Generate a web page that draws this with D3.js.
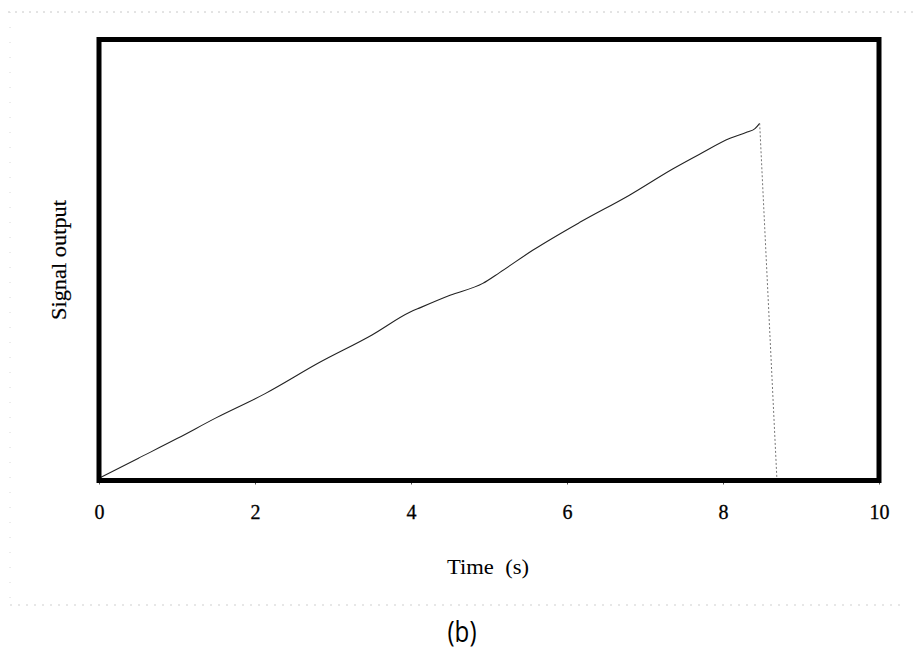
<!DOCTYPE html>
<html>
<head>
<meta charset="utf-8">
<script src="https://cdn.jsdelivr.net/npm/d3@7"></script>
<style>
  html, body { margin: 0; padding: 0; background: #fff; }
  svg { display: block; }
</style>
</head>
<body>
<svg id="chart" width="915" height="653"></svg>
<script>
// ---- data ----
const riseTime   = [0, 0.5, 1.0, 1.5, 2.13, 2.83, 3.5, 3.99, 4.12, 4.5, 4.92, 5.14, 5.56, 6.17, 6.8, 7.36, 7.7, 8.09, 8.31, 8.41, 8.47];
const riseSignal = [0.005, 0.05, 0.095, 0.142, 0.197, 0.268, 0.33, 0.382, 0.392, 0.42, 0.447, 0.472, 0.522, 0.586, 0.647, 0.707, 0.74, 0.776, 0.790, 0.798, 0.810];
const fallTime   = [8.47, 8.69];
const fallSignal = [0.810, 0.007];
const xTicks     = [0, 2, 4, 6, 8, 10];
const xLabel     = "Time  (s)";
const yLabel     = "Signal output";
const caption    = "(b)";

// ---- layout ----
const svg = d3.select("#chart");
const mLeft = 99, mRight = 879, mTop = 39.5, mBottom = 480.5;
const serif = "'Liberation Serif', 'Times New Roman', serif";

const x = d3.scaleLinear().domain([0, 10]).range([mLeft, mRight]);
const y = d3.scaleLinear().domain([0, 1]).range([mBottom, mTop]);

// faint scan artefacts (dotted guide lines of the scanned page)
svg.append("line").attr("x1", 8).attr("x2", 913).attr("y1", 12).attr("y2", 12)
  .attr("stroke", "#c8c8c8").attr("stroke-width", 1).attr("stroke-dasharray", "2,5");
svg.append("line").attr("x1", 10).attr("x2", 905).attr("y1", 605).attr("y2", 605)
  .attr("stroke", "#cfcfcf").attr("stroke-width", 1).attr("stroke-dasharray", "2,6");
svg.append("line").attr("x1", 10).attr("x2", 10).attr("y1", 12).attr("y2", 600)
  .attr("stroke", "#d8d8d8").attr("stroke-width", 1).attr("stroke-dasharray", "1,14");

// x axis ticks + labels
const xAxis = d3.axisBottom(x).tickValues(xTicks).tickSize(4).tickPadding(20)
  .tickFormat(d3.format("d"));
const gx = svg.append("g").attr("transform", `translate(0,${mBottom})`).call(xAxis);
gx.select(".domain").remove();
gx.selectAll(".tick line").attr("stroke", "#555").attr("stroke-width", 1);
gx.selectAll(".tick text")
  .attr("font-family", serif)
  .attr("font-size", 20).attr("fill", "#000")
  .attr("stroke", "#000").attr("stroke-width", 0.3);

// series
const riseData = riseTime.map((t, i) => [t, riseSignal[i]]);
const fallData = fallTime.map((t, i) => [t, fallSignal[i]]);
const line = d3.line().curve(d3.curveMonotoneX).x(d => x(d[0])).y(d => y(d[1]));

svg.append("path").datum(riseData).attr("d", line)
  .attr("fill", "none").attr("stroke", "#222").attr("stroke-width", 1.1);
svg.append("path").datum(fallData).attr("d", d3.line().x(d => x(d[0])).y(d => y(d[1])))
  .attr("fill", "none").attr("stroke", "#777").attr("stroke-width", 1)
  .attr("stroke-dasharray", "2,2");

// frame
svg.append("rect").attr("x", mLeft).attr("y", mTop)
  .attr("width", mRight - mLeft).attr("height", mBottom - mTop)
  .attr("fill", "none").attr("stroke", "#000").attr("stroke-width", 5);

// axis titles
svg.append("text").attr("x", 488).attr("y", 574)
  .attr("text-anchor", "middle")
  .attr("font-family", serif)
  .attr("font-size", 20).attr("fill", "#000")
  .attr("textLength", 82).attr("lengthAdjust", "spacingAndGlyphs")
  .style("white-space", "pre").text(xLabel);

svg.append("text").attr("transform", "translate(66,260) rotate(-90)")
  .attr("text-anchor", "middle")
  .attr("font-family", serif)
  .attr("font-size", 20).attr("fill", "#000")
  .attr("stroke", "#000").attr("stroke-width", 0.2)
  .attr("textLength", 120).attr("lengthAdjust", "spacingAndGlyphs")
  .text(yLabel);

// caption
svg.append("text").attr("x", 462).attr("y", 642)
  .attr("text-anchor", "middle")
  .attr("font-family", "'Open Sans', 'Liberation Sans', sans-serif")
  .attr("font-size", 29).attr("fill", "#000")
  .attr("textLength", 29).attr("lengthAdjust", "spacingAndGlyphs")
  .text(caption);
</script>
</body>
</html>
